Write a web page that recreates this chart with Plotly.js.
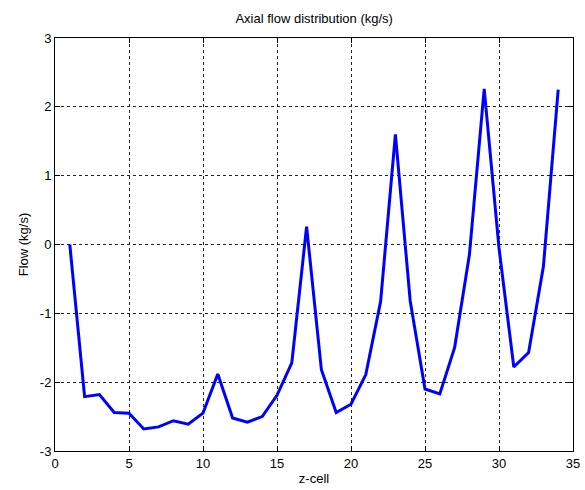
<!DOCTYPE html>
<html>
<head>
<meta charset="utf-8">
<script src="https://cdn.plot.ly/plotly-3.0.1.min.js"></script>
<style>html,body{margin:0;padding:0;background:#fff;}#chart{width:585px;height:490px;}</style>
</head>
<body>
<div id="chart"></div>
<script>
const zCell = [1,2,3,4,5,6,7,8,9,10,11,12,13,14,15,16,17,18,19,20,21,22,23,24,25,26,27,28,29,30,31,32,33,34];
const flow = [0.0,-2.21,-2.18,-2.44,-2.45,-2.68,-2.65,-2.56,-2.61,-2.45,-1.88,-2.52,-2.58,-2.50,-2.19,-1.72,0.26,-1.82,-2.44,-2.32,-1.89,-0.83,1.60,-0.82,-2.10,-2.17,-1.50,-0.15,2.26,-0.05,-1.78,-1.57,-0.32,2.25];
const xTicks = [0,5,10,15,20,25,30,35];
const yTicks = [-3,-2,-1,0,1,2,3];
const titleText = 'Axial flow distribution (kg/s)';
const xTitle = 'z-cell';
const yTitle = 'Flow (kg/s)';

const font = {family: '"Liberation Sans", Arial, sans-serif', size: 13, color: '#000'};
const axisCommon = {
  showline: true, linecolor: '#000', linewidth: 1, mirror: 'ticks',
  ticks: 'inside', ticklen: 5, tickcolor: '#000', tickwidth: 1,
  showgrid: true, gridcolor: '#222', griddash: '3px,3px', gridwidth: 1,
  zeroline: false, tickfont: font
};
Plotly.newPlot('chart', [{
  x: zCell, y: flow, type: 'scatter', mode: 'lines',
  line: {color: '#0000ff', width: 3}, hoverinfo: 'none'
}], {
  width: 585, height: 490,
  margin: {l: 55, r: 12, t: 38, b: 39},
  paper_bgcolor: '#fff', plot_bgcolor: '#fff',
  showlegend: false,
  font: font,
  title: {text: titleText, font: {family: font.family, size: 13, color: '#000'}, x: 0.537, xanchor: 'center', y: 0.963, yanchor: 'middle'},
  xaxis: Object.assign({}, axisCommon, {range: [0, 35], tickvals: xTicks, ticktext: xTicks.map(String),
    title: {text: xTitle, font: font, standoff: 4}}),
  yaxis: Object.assign({}, axisCommon, {range: [-3, 3], tickvals: yTicks, ticktext: yTicks.map(String),
    title: {text: yTitle, font: font, standoff: 8}})
}, {staticPlot: true});
</script>
</body>
</html>
